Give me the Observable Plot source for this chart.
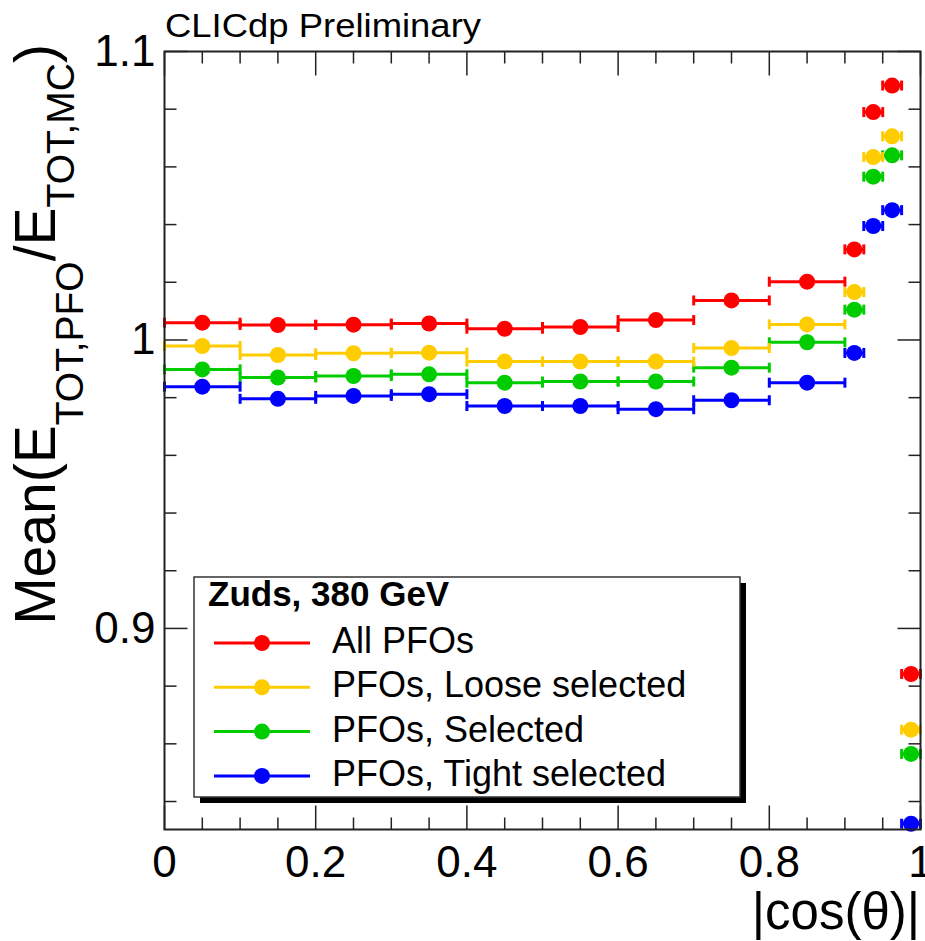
<!DOCTYPE html>
<html>
<head>
<meta charset="utf-8">
<script src="https://cdn.jsdelivr.net/npm/d3@7"></script>
<script src="https://cdn.jsdelivr.net/npm/@observablehq/plot@0.6"></script>
<style>
  html, body { margin: 0; padding: 0; background: #fff; }
  #chart { width: 925px; height: 941px; }
  svg text { font-family: "Liberation Sans", Arial, Helvetica, sans-serif; }
</style>
</head>
<body>
<div id="chart"></div>
<script>
// ---------- data ----------
const binLow  = [0.0, 0.1, 0.2, 0.3, 0.4, 0.5, 0.6, 0.7, 0.8, 0.9, 0.925, 0.95, 0.975];
const binHigh = [0.1, 0.2, 0.3, 0.4, 0.5, 0.6, 0.7, 0.8, 0.9, 0.925, 0.95, 0.975, 1.0];

const seriesNames  = ["All PFOs", "PFOs, Loose selected", "PFOs, Selected", "PFOs, Tight selected"];
const seriesColors = ["#ff0000", "#ffcc00", "#00cc00", "#0000ff"];

const allPFOs       = [1.0060, 1.0052, 1.0053, 1.0057, 1.0039, 1.0045, 1.0069, 1.0137, 1.0202, 1.0314, 1.0790, 1.0882, 0.8842];
const looseSelected = [0.9979, 0.9948, 0.9954, 0.9956, 0.9925, 0.9925, 0.9925, 0.9972, 1.0054, 1.0166, 1.0634, 1.0706, 0.8649];
const selected      = [0.9898, 0.9870, 0.9875, 0.9881, 0.9852, 0.9856, 0.9856, 0.9904, 0.9992, 1.0105, 1.0566, 1.0640, 0.8565];
const tightSelected = [0.9838, 0.9796, 0.9806, 0.9812, 0.9771, 0.9771, 0.9760, 0.9791, 0.9852, 0.9955, 1.0395, 1.0450, 0.8323];

const xMajorTicks = [0, 0.2, 0.4, 0.6, 0.8, 1];
const xTickLabels = ["0", "0.2", "0.4", "0.6", "0.8", "1"];
const xMinorTicks = [0.05, 0.1, 0.15, 0.25, 0.3, 0.35, 0.45, 0.5, 0.55, 0.65, 0.7, 0.75, 0.85, 0.9, 0.95];
const yMajorTicks = [0.9, 1.0, 1.1];
const yTickLabels = ["0.9", "1", "1.1"];
const yMinorTicks = [0.84, 0.86, 0.88, 0.92, 0.94, 0.96, 0.98, 1.02, 1.04, 1.06, 1.08];

const xDomain = [0, 1];
const yDomain = [0.8303, 1.1];

const topLabel = "CLICdp Preliminary";
const legendTitle = "Zuds, 380 GeV";

// ---------- table ----------
const seriesValues = [allPFOs, looseSelected, selected, tightSelected];
const rows = [];
seriesNames.forEach((name, s) => {
  seriesValues[s].forEach((v, i) => {
    rows.push({series: name, lo: binLow[i], hi: binHigh[i], mid: (binLow[i] + binHigh[i]) / 2, value: v});
  });
});

// ---------- symbols ----------
const capSymbol = {draw(ctx) { ctx.rect(-1.5, -5, 3, 10); }};
const tickSym = (dx, dy) => ({draw(ctx) { ctx.moveTo(0, 0); ctx.lineTo(dx, dy); }});

const W = 925, H = 941;
const mL = 164, mR = 5, mT = 51, mB = 112;
const axisStroke = "#222";

const tickMarks = [
  Plot.dot(xMajorTicks, {x: d => d, frameAnchor: "bottom", symbol: tickSym(0, -24), fill: "none", stroke: axisStroke, strokeWidth: 1.5}),
  Plot.dot(xMinorTicks, {x: d => d, frameAnchor: "bottom", symbol: tickSym(0, -12), fill: "none", stroke: axisStroke, strokeWidth: 1.5}),
  Plot.dot(xMajorTicks, {x: d => d, frameAnchor: "top", symbol: tickSym(0, 24), fill: "none", stroke: axisStroke, strokeWidth: 1.5}),
  Plot.dot(xMinorTicks, {x: d => d, frameAnchor: "top", symbol: tickSym(0, 12), fill: "none", stroke: axisStroke, strokeWidth: 1.5}),
  Plot.dot(yMajorTicks, {y: d => d, frameAnchor: "left", symbol: tickSym(23, 0), fill: "none", stroke: axisStroke, strokeWidth: 1.5}),
  Plot.dot(yMinorTicks, {y: d => d, frameAnchor: "left", symbol: tickSym(12, 0), fill: "none", stroke: axisStroke, strokeWidth: 1.5}),
  Plot.dot(yMajorTicks, {y: d => d, frameAnchor: "right", symbol: tickSym(-23, 0), fill: "none", stroke: axisStroke, strokeWidth: 1.5}),
  Plot.dot(yMinorTicks, {y: d => d, frameAnchor: "right", symbol: tickSym(-12, 0), fill: "none", stroke: axisStroke, strokeWidth: 1.5})
];

const plot = Plot.plot({
  width: W,
  height: H,
  marginLeft: mL,
  marginRight: mR,
  marginTop: mT,
  marginBottom: mB,
  style: {fontFamily: "'Liberation Sans', Arial, Helvetica, sans-serif", background: "#fff"},
  x: {domain: xDomain, label: null},
  y: {domain: yDomain, label: null},
  color: {domain: seriesNames, range: seriesColors},
  marks: [
    ...tickMarks,
    Plot.axisX({ticks: xMajorTicks, anchor: "bottom", tickSize: 0, tickPadding: 16, fontSize: 44, fill: "#000",
      tickFormat: d => xTickLabels[xMajorTicks.indexOf(d)], label: null}),
    Plot.axisY({ticks: yMajorTicks, anchor: "left", tickSize: 0, tickPadding: 9, fontSize: 44, fill: "#000",
      tickFormat: d => yTickLabels[yMajorTicks.findIndex(t => Math.abs(t - d) < 1e-9)], label: null}),
    Plot.ruleY(rows, {y: "value", x1: "lo", x2: "hi", stroke: "series", strokeWidth: 3}),
    Plot.dot(rows, {x: "lo", y: "value", symbol: capSymbol, fill: "series", stroke: "none"}),
    Plot.dot(rows, {x: "hi", y: "value", symbol: capSymbol, fill: "series", stroke: "none"}),
    Plot.dot(rows, {x: "mid", y: "value", r: 8, fill: "series", stroke: "none"}),
    Plot.frame({stroke: axisStroke, strokeWidth: 2})
  ]
});

document.getElementById("chart").appendChild(plot);

// ---------- extra text & legend ----------
const svg = d3.select(plot);
const font = "'Liberation Sans', Arial, Helvetica, sans-serif";

// top label
svg.append("text")
  .attr("x", 165).attr("y", 37)
  .attr("text-anchor", "start")
  .attr("font-size", 33).attr("fill", "#000").attr("font-family", font)
  .attr("textLength", 316).attr("lengthAdjust", "spacingAndGlyphs")
  .text(topLabel);

// y-axis title with subscripts
const yt = svg.append("text")
  .attr("transform", "translate(55,44) rotate(-90)")
  .attr("text-anchor", "end")
  .attr("font-size", 57).attr("fill", "#000").attr("font-family", font);
yt.append("tspan").text("Mean(E");
yt.append("tspan").attr("font-size", 39).attr("dy", 28).text("TOT,PFO");
yt.append("tspan").attr("font-size", 57).attr("dy", -28).text("/E");
yt.append("tspan").attr("font-size", 39).attr("dy", 19).text("TOT,MC");
yt.append("tspan").attr("font-size", 57).attr("dy", -19).text(")");

// x-axis title
svg.append("text")
  .attr("x", 920).attr("y", 929)
  .attr("text-anchor", "end")
  .attr("font-size", 51).attr("fill", "#000").attr("font-family", font)
  .text("|cos(θ)|");

// legend
const lg = svg.append("g");
lg.append("rect").attr("x", 200).attr("y", 583).attr("width", 546).attr("height", 220).attr("fill", "#000");
lg.append("rect").attr("x", 194).attr("y", 577).attr("width", 546).attr("height", 220)
  .attr("fill", "#fff").attr("stroke", "#333").attr("stroke-width", 1.5);
lg.append("text").attr("x", 208).attr("y", 606)
  .attr("text-anchor", "start")
  .attr("font-size", 35).attr("font-weight", "bold").attr("fill", "#000").attr("font-family", font)
  .text(legendTitle);
seriesNames.forEach((name, i) => {
  const yy = 643 + i * 44.3;
  lg.append("line").attr("x1", 214).attr("x2", 310).attr("y1", yy).attr("y2", yy)
    .attr("stroke", seriesColors[i]).attr("stroke-width", 3);
  lg.append("circle").attr("cx", 262).attr("cy", yy).attr("r", 8).attr("fill", seriesColors[i]);
  lg.append("text").attr("x", 332).attr("y", yy + 10)
    .attr("text-anchor", "start")
    .attr("font-size", 36).attr("fill", "#000").attr("font-family", font)
    .text(name);
});
</script>
</body>
</html>
